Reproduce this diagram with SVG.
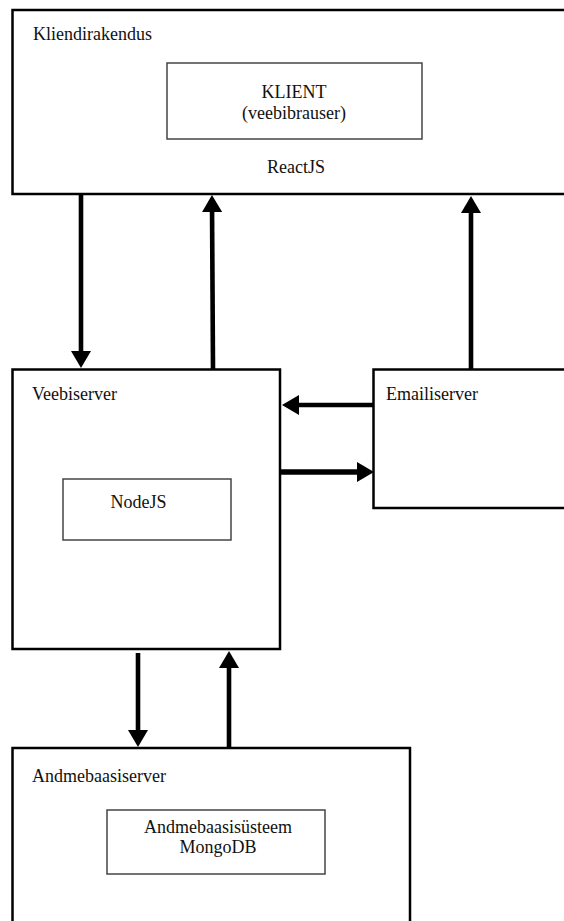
<svg xmlns="http://www.w3.org/2000/svg" width="564" height="921" viewBox="0 0 564 921">
  <style>
    .outer { fill: #fff; stroke: #000; stroke-width: 2.5; }
    .inner { fill: #fff; stroke: #444; stroke-width: 1.5; }
    .lbl { font-family: "Liberation Serif", "Times New Roman", serif; font-size: 18px; fill: #111; }
    .mid { text-anchor: middle; }
    .conn { stroke: #000; stroke-width: 4.6; fill: none; marker-end: url(#head); }
  </style>
  <defs>
    <marker id="head" viewBox="0 0 17 20" refX="9" refY="10" markerWidth="17" markerHeight="20" markerUnits="userSpaceOnUse" orient="auto">
      <path d="M0,0 L17,10 L0,20 Z" fill="#000"/>
    </marker>
  </defs>
  <rect width="564" height="921" fill="#fff"/>

  <g id="kliendirakendus">
    <rect class="outer" x="12.5" y="10" width="570" height="184"/>
    <text class="lbl" x="33" y="40">Kliendirakendus</text>
    <text class="lbl mid" x="296" y="173">ReactJS</text>
  </g>
  <g id="klient">
    <rect class="inner" x="167" y="63" width="255" height="76"/>
    <text class="lbl mid" x="294" y="98">KLIENT</text>
    <text class="lbl mid" x="294" y="119">(veebibrauser)</text>
  </g>

  <g id="veebiserver">
    <rect class="outer" x="12.5" y="369.5" width="267.5" height="279.5"/>
    <text class="lbl" x="32" y="400">Veebiserver</text>
  </g>
  <g id="nodejs">
    <rect class="inner" x="63" y="479" width="168" height="61"/>
    <text class="lbl mid" x="138.5" y="508">NodeJS</text>
  </g>

  <g id="emailiserver">
    <rect class="outer" x="373.5" y="369.5" width="200" height="138.5"/>
    <text class="lbl" x="386" y="400">Emailiserver</text>
  </g>

  <g id="andmebaasiserver">
    <rect class="outer" x="12.5" y="748" width="397.5" height="200"/>
    <text class="lbl" x="32" y="782">Andmebaasiserver</text>
  </g>
  <g id="mongodb">
    <rect class="inner" x="107" y="810" width="218" height="64"/>
    <text class="lbl mid" x="218" y="833">Andmebaasisüsteem</text>
    <text class="lbl mid" x="218" y="853">MongoDB</text>
  </g>

  <g id="connectors">
    <line class="conn" x1="81" y1="195" x2="81" y2="360"/>
    <line class="conn" x1="213" y1="369" x2="212" y2="203"/>
    <line class="conn" x1="471" y1="369" x2="471" y2="204"/>
    <line class="conn" x1="373" y1="405" x2="290" y2="405"/>
    <line class="conn" x1="281" y1="472" x2="366" y2="472" style="stroke-width:5.5"/>
    <line class="conn" x1="138" y1="653" x2="138" y2="739"/>
    <line class="conn" x1="229" y1="748" x2="229" y2="659"/>
  </g>
</svg>
